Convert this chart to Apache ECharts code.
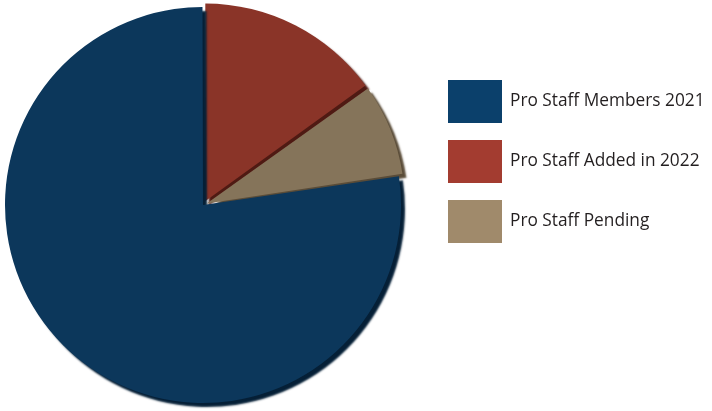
<!DOCTYPE html>
<html><head><meta charset="utf-8">
<script src="https://cdn.jsdelivr.net/npm/echarts@6/dist/echarts.min.js"></script>
<style>html,body{margin:0;padding:0;background:#fff}#c{width:712px;height:411px}</style>
</head><body><div id="c"></div>
<script>
const legendOrder = ['Pro Staff Members 2021', 'Pro Staff Added in 2022', 'Pro Staff Pending'];
const sliceNames = ['Pro Staff Added in 2022', 'Pro Staff Pending', 'Pro Staff Members 2021'];
const sliceValues = [8, 4, 41];
const sliceColors = ['#8a3428', '#85745a', '#0c375b'];
const shadowColors = ['#4f1a13', '#5a4c38', '#051f36'];
const legendColors = {'Pro Staff Members 2021': '#0b406b', 'Pro Staff Added in 2022': '#a33c30', 'Pro Staff Pending': '#a08a6b'};
const explodedSlices = ['Pro Staff Added in 2022', 'Pro Staff Pending'];

const chart = echarts.init(document.getElementById('c'), null, {renderer: 'canvas'});
chart.setOption({
  animation: false,
  legend: {
    orient: 'vertical', left: 448, top: 80, padding: 0,
    itemWidth: 54, itemHeight: 43, itemGap: 17, icon: 'rect',
    selectedMode: false,
    textStyle: {fontFamily: 'Open Sans', fontSize: 17.3, color: '#231f20', padding: [0, 0, 0, 3]},
    data: legendOrder.map(n => ({name: n, itemStyle: {color: legendColors[n], borderWidth: 0, shadowBlur: 0, shadowOffsetX: 0, shadowOffsetY: 0}}))
  },
  series: [{
    type: 'pie', center: [203, 205], radius: [0, 198], startAngle: 90, clockwise: true,
    selectedMode: 'multiple', selectedOffset: 4, padAngle: 0.3,
    label: {show: false}, labelLine: {show: false},
    emphasis: {disabled: true},
    data: sliceNames.map((n, i) => ({
      name: n, value: sliceValues[i], selected: explodedSlices.includes(n),
      itemStyle: {color: sliceColors[i], shadowColor: shadowColors[i], shadowBlur: 2, shadowOffsetX: 4, shadowOffsetY: 4}
    }))
  }]
});
</script></body></html>
